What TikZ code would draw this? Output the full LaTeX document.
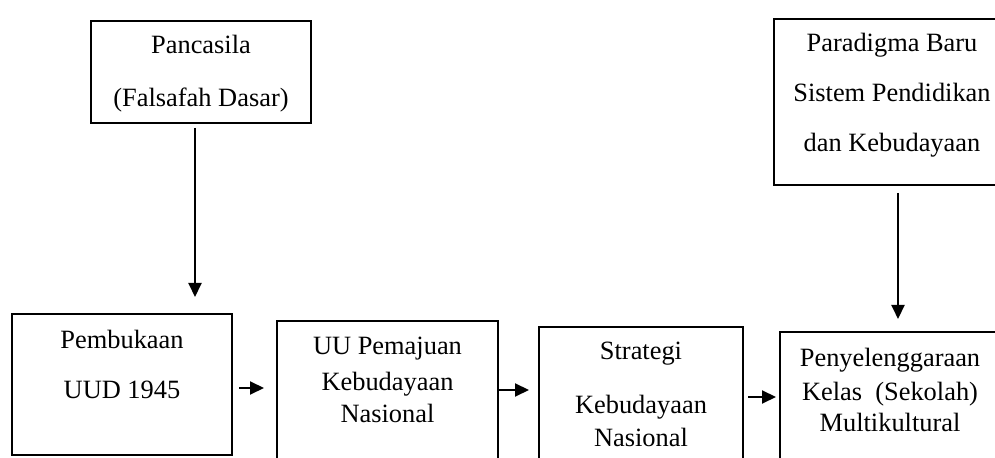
\documentclass[tikz,border=0pt]{standalone}
\usepackage{fontspec}
\setmainfont{Liberation Serif}
\usetikzlibrary{arrows.meta,positioning}

\begin{document}
\begin{tikzpicture}[x=0.5pt,y=-0.5pt,
  box/.style={draw,line width=1pt,inner sep=0pt},
  txt/.style={inner sep=0pt,align=center,font=\fontsize{13.2}{16}\selectfont},
  arr/.style={line width=1pt,-{Triangle[length=7pt,width=6.5pt]}}]
  \useasboundingbox (0,0) rectangle (995,458);
  \clip (0,0) rectangle (995,458);
  \node (pancasila) at (201,72) [box,minimum width=110pt,minimum height=51pt] {};
  \node (paradigma) at (892,102) [box,minimum width=118pt,minimum height=83pt] {};
  \node (pembukaan) at (122,384.5) [box,minimum width=110pt,minimum height=70.5pt] {};
  \node (uu) at (387.5,401) [box,minimum width=110.5pt,minimum height=80pt] {};
  \node (strategi) at (641,407) [box,minimum width=102pt,minimum height=80pt] {};
  \node (penyelenggaraan) at (890,412) [box,minimum width=110pt,minimum height=80pt] {};
  \node (pancasila-t) [txt,below=7.5pt of pancasila.north] {Pancasila\\[10.5pt](Falsafah Dasar)};
  \node (paradigma-t) [txt,below=7.5pt of paradigma.north] {Paradigma Baru\\[9pt]Sistem Pendidikan\\[9pt]dan Kebudayaan};
  \node (pembukaan-t) [txt,below=8.5pt of pembukaan.north] {Pembukaan\\[9pt]UUD 1945};
  \node (uu-t) [txt,below=8.5pt of uu.north] {UU Pemajuan\\[2pt]Kebudayaan\\Nasional};
  \node (strategi-t) [txt,below=8pt of strategi.north] {Strategi\\[11pt]Kebudayaan\\[0.5pt]Nasional};
  \node (penyelenggaraan-t) [txt,below=8.5pt of penyelenggaraan.north] {Penyelenggaraan\\[1pt]Kelas~ (Sekolah)\\[-0.5pt]Multikultural};
  \draw[arr,shorten <=2pt,shorten >=8pt] ([xshift=-3pt]pancasila.south) -- ([xshift=-3pt]pancasila.south |- pembukaan.north);
  \draw[arr,shorten <=3.5pt,shorten >=6pt] ([xshift=3pt]paradigma.south) -- ([xshift=3pt]paradigma.south |- penyelenggaraan.north);
  \draw[arr,shorten <=3pt,shorten >=6pt] (pembukaan.east |- 0,388) -- (uu.west |- 0,388);
  \draw[arr,shorten >=4.5pt] (uu.east |- 0,390) -- (strategi.west |- 0,390);
  \draw[arr,shorten <=2pt,shorten >=1.5pt] (strategi.east |- 0,397) -- (penyelenggaraan.west |- 0,397);
\end{tikzpicture}
\end{document}
